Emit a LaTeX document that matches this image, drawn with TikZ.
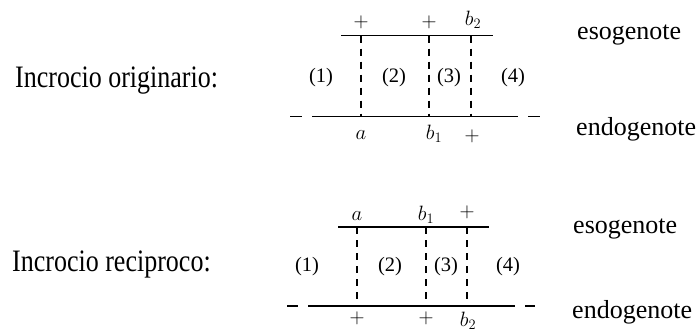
\documentclass[tikz,border=0pt]{standalone}
\usepackage[no-math]{fontspec}
\setmainfont{Liberation Serif}
\begin{document}
\begin{tikzpicture}[x=1pt,y=-1pt,
  txt/.style={inner sep=0pt, font=\fontsize{26}{30}\selectfont},
  lab/.style={inner sep=0pt, font=\fontsize{20.5}{24}\selectfont},
  chrom/.style={line width=1.4pt},
  sep/.style={line width=1.1pt, dash pattern=on 7pt off 6pt},
  gap/.style={line width=1.4pt}]
\useasboundingbox (0,0) rectangle (700,333);

% ---------- top diagram ----------
\node[txt, anchor=base west] (t1) at (15,87) {\scalebox{1}[1.2]{Incrocio originario:}};
\node[txt, anchor=base west] (exo1) at (577,39) {esogenote};
\node[txt, anchor=base west] (endo1) at (576,135) {endogenote};

\coordinate (e1l) at (341,35.7);
\coordinate (e1r) at (493,35.7);
\coordinate (n1l) at (312,116.7);
\coordinate (n1r) at (518,116.7);
\coordinate (d1a) at (290,116.7); \coordinate (d1b) at (302,116.7);
\coordinate (d1c) at (528,116.7); \coordinate (d1d) at (540,116.7);
\coordinate (v1at) at (361,35.7); \coordinate (v1ab) at (361,116.7);
\coordinate (v1bt) at (429,35.7); \coordinate (v1bb) at (429,116.7);
\coordinate (v1ct) at (471,35.7); \coordinate (v1cb) at (471,116.7);

\draw[chrom] (e1l) -- (e1r);
\draw[chrom] (n1l) -- (n1r);
\draw[gap] (d1a) -- (d1b);
\draw[gap] (d1c) -- (d1d);
\draw[sep] (v1at) -- (v1ab);
\draw[sep] (v1bt) -- (v1bb);
\draw[sep] (v1ct) -- (v1cb);

\node[lab] (p11) at (361,22) {$+$};
\node[lab] (p12) at (429,22) {$+$};
\node[lab] (b21) at (473,20) {$b_2$};
\node[lab] (r11) at (321,78) {(1)};
\node[lab] (r12) at (394,78) {(2)};
\node[lab] (r13) at (449,78) {(3)};
\node[lab] (r14) at (513,78) {(4)};
\node[lab, anchor=base] (a1) at (361,139) {$a$};
\node[lab, anchor=base] (b11) at (434,139) {$b_1$};
\node[lab] (p13) at (472,136) {$+$};

% ---------- bottom diagram ----------
\node[txt, anchor=base west] (t2) at (12,271) {\scalebox{1}[1.2]{Incrocio reciproco:}};
\node[txt, anchor=base west] (exo2) at (573,233) {esogenote};
\node[txt, anchor=base west] (endo2) at (572,318) {endogenote};

\coordinate (e2l) at (338,227);
\coordinate (e2r) at (489,227);
\coordinate (n2l) at (308,306);
\coordinate (n2r) at (515,306);
\coordinate (d2a) at (287,306); \coordinate (d2b) at (298,306);
\coordinate (d2c) at (525,306); \coordinate (d2d) at (535,306);
\coordinate (v2at) at (357,227); \coordinate (v2ab) at (357,306);
\coordinate (v2bt) at (426,227); \coordinate (v2bb) at (426,306);
\coordinate (v2ct) at (467,227); \coordinate (v2cb) at (467,306);

\draw[chrom] (e2l) -- (e2r);
\draw[chrom] (n2l) -- (n2r);
\draw[gap] (d2a) -- (d2b);
\draw[gap] (d2c) -- (d2d);
\draw[sep] (v2at) -- (v2ab);
\draw[sep] (v2bt) -- (v2bb);
\draw[sep] (v2ct) -- (v2cb);

\node[lab, anchor=base] (a2) at (357,220) {$a$};
\node[lab, anchor=base] (b12) at (426,220) {$b_1$};
\node[lab] (p21) at (467,212) {$+$};
\node[lab] (r21) at (307,267) {(1)};
\node[lab] (r22) at (390,267) {(2)};
\node[lab] (r23) at (446,267) {(3)};
\node[lab] (r24) at (508,267) {(4)};
\node[lab] (p22) at (357,318) {$+$};
\node[lab] (p23) at (426,318) {$+$};
\node[lab, anchor=base] (b22) at (468,326) {$b_2$};
\end{tikzpicture}
\end{document}
